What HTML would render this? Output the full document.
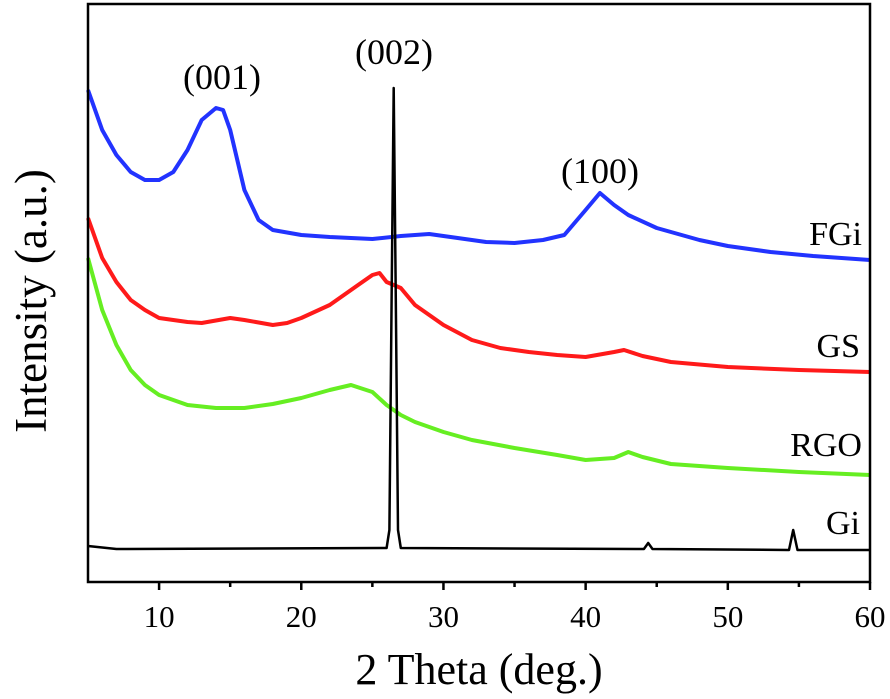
<!DOCTYPE html>
<html><head><meta charset="utf-8"><style>
html,body{margin:0;padding:0;background:#fff;}
svg{display:block;font-family:"Liberation Serif",serif;}
</style></head><body>
<svg id="chart" width="890" height="699" viewBox="0 0 890 699">
<g id="series"></g>
<rect x="88" y="4" width="782" height="578" fill="none" stroke="#000" stroke-width="2.5"/>
<g id="axes"></g>
<text x="479" y="684" font-size="44" text-anchor="middle">2 Theta (deg.)</text>
<text transform="translate(46,301) rotate(-90)" font-size="45" text-anchor="middle">Intensity (a.u.)</text>
<text x="222" y="89" font-size="36" text-anchor="middle">(001)</text>
<text x="394" y="64" font-size="36" text-anchor="middle">(002)</text>
<text x="600" y="183" font-size="36" text-anchor="middle">(100)</text>
<text x="862" y="245" font-size="34" text-anchor="end">FGi</text>
<text x="860" y="357" font-size="34" text-anchor="end">GS</text>
<text x="862" y="456" font-size="34" text-anchor="end">RGO</text>
<text x="860" y="534" font-size="34" text-anchor="end">Gi</text>
</svg>
<script>
const xTicks=[10,20,30,40,50,60];
const xMinor=[15,25,35,45,55];
const fgiX=[5,6,7,8,9,10,11,12,13,14,14.5,15,16,17,18,20,22,25,27,29,31,33,35,37,38.5,40,41,42,43,45,48,50,53,56,60];
const fgiY=[492,452,427,410,402,402,410,432,462,474,472,452,392,362,352,347,345,343,346,348,344,340,339,342,347,372,389,377,367,354,342,336,330,326,322];
const gsX=[5,6,7,8,9,10,12,13,15,16,18,19,20,22,24,25,25.5,26,27,28,30,32,34,36,38,40,42,42.7,44,46,50,55,60];
const gsY=[364,324,300,282,272,264,260,259,264,262,257,259,264,277,297,307,309,300,294,277,257,242,234,230,227,225,230,232,226,220,215,212,210];
const rgoX=[5,6,7,8,9,10,12,14,16,18,20,22,23.5,25,26,27,28,30,32,35,38,40,42,43,44,46,50,55,60];
const rgoY=[324,272,237,212,197,187,177,174,174,178,184,192,197,190,177,167,160,150,142,134,127,122,124,130,125,118,114,110,107];
const giX=[5,7,26,26.2,26.35,26.5,26.65,26.8,27,44.1,44.4,44.7,54.3,54.6,54.9,60];
const giY=[36,33,34,52,282,494,282,52,34,33,39,33,32,52,32,32];
const X0=5,X1=60,PX0=88,PX1=870,PY0=582;
function sx(v){return PX0+(v-X0)/(X1-X0)*(PX1-PX0);}
function sy(v){return PY0-v;}
const NS="http://www.w3.org/2000/svg";
const sg=document.getElementById('series');
function line(xs,ys,color,w,name){
  const p=document.createElementNS(NS,'path');
  p.setAttribute('d',xs.map((x,i)=>(i?'L':'M')+sx(x).toFixed(1)+','+sy(ys[i]).toFixed(1)).join(''));
  p.setAttribute('fill','none');p.setAttribute('stroke',color);p.setAttribute('stroke-width',w);
  p.setAttribute('stroke-linejoin','round');
  
  
  sg.appendChild(p);
}
line(rgoX,rgoY,'#66ee22',4,'rgo-line');
line(gsX,gsY,'#ff1a1a',4,'gs-line');
line(fgiX,fgiY,'#2233ff',4,'fgi-line');
line(giX,giY,'#000',2.5,'gi-line');
const ag=document.getElementById('axes');
xTicks.forEach(t=>{
  const l=document.createElementNS(NS,'line');
  l.setAttribute('x1',sx(t));l.setAttribute('x2',sx(t));l.setAttribute('y1',582);l.setAttribute('y2',590);
  l.setAttribute('stroke','#000');l.setAttribute('stroke-width',2.5);
  
  
  ag.appendChild(l);
  const tx=document.createElementNS(NS,'text');
  tx.setAttribute('x',sx(t));tx.setAttribute('y',627);tx.setAttribute('font-size','31');tx.setAttribute('text-anchor','middle');
  tx.textContent=t;
  
  
  ag.appendChild(tx);
});
xMinor.forEach(t=>{
  const l=document.createElementNS(NS,'line');
  l.setAttribute('x1',sx(t));l.setAttribute('x2',sx(t));l.setAttribute('y1',582);l.setAttribute('y2',587);
  l.setAttribute('stroke','#000');l.setAttribute('stroke-width',2.5);
  
  
  ag.appendChild(l);
});
</script>
</body></html>
